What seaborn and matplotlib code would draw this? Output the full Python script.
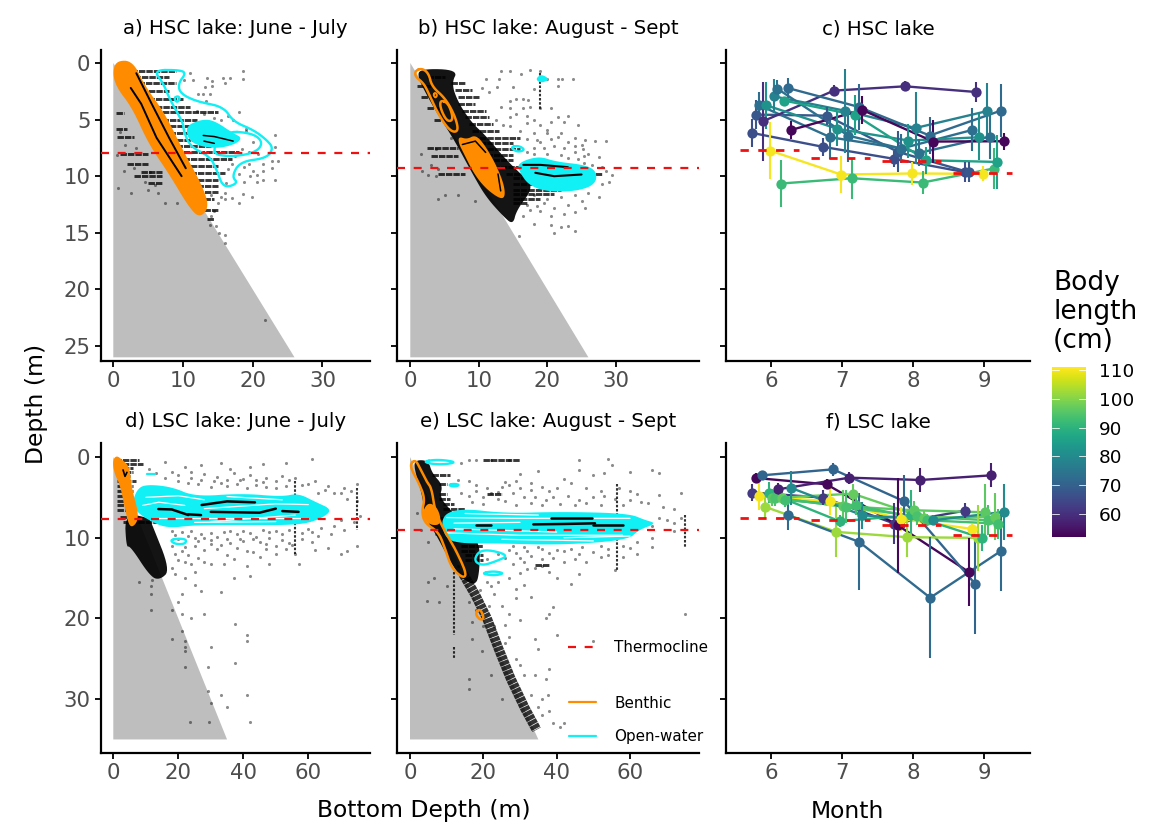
import numpy as np
import matplotlib
matplotlib.use("Agg")
import matplotlib.pyplot as plt
from matplotlib.lines import Line2D
from matplotlib.cm import ScalarMappable
from matplotlib.colors import Normalize
import seaborn as sns

sns.set_theme(style="ticks")
plt.rcParams['font.family'] = ['DejaVu Sans']

# ---------- monthly panels ----------
months = [6, 7, 8, 9]
c_offset = [-0.264, -0.214, -0.164, -0.114, -0.064, -0.014, 0.036, 0.086, 0.136, 0.186, 0.236, 0.286]
c_length = [66, 68, 73, 60, 82, 110, 78, 74, 92, 86, 72, 53]
c_depth = [[6.18, 7.41, 8.47, 9.65], [4.56, 4.65, 7.85, 9.65], [3.74, 6.56, 7.56, 5.91], [5.15, 2.44, 2.06, 2.56],
           [3.74, 5.82, 6.85, 6.56], [7.74, 9.85, 9.76, 9.79], [2.94, 4.21, 5.74, 4.26], [2.26, 6.41, 7.94, 6.5],
           [10.65, 10.18, 10.56, 9.32], [3.32, 4.59, 8.59, 8.74], [2.21, 3.88, 6.41, 4.21], [5.91, 4.15, 6.94, 6.91]]
c_err = [[1.2, .8, .7, .9], [1.3, .8, 1.8, .9], [1.2, 1.9, 1.3, 1.9], [3.5, .5, .45, .9],
         [2.05, 1.5, 1.5, 2.05], [2.5, 1.6, 1, .65], [1.5, 3.7, 3.2, 2.5], [.8, 2.3, 1.2, 2],
         [2.1, 1.8, 1, 1.8], [.35, 1.8, 1.2, 2.35], [.9, 2, 1.6, 2.35], [.8, 1.2, 1.9, .75]]
c_thermo = [7.65, 8.38, 8.7, 9.7]

f_offset = [-0.264, -0.218, -0.172, -0.126, -0.08, -0.034, 0.012, 0.058, 0.104, 0.15, 0.196, 0.242, 0.286]
f_length = [62, 53, 110, 71, 102, 90, 96, 94, 57, 97, 93, 72, 80]
f_depth = [[4.41, 5.03, 8.25, 6.64], [2.6, 3.38, 8.45, 14.23], [4.87, 5.48, 7.67, 8.91], [2.27, 1.53, 5.48, 15.71],
           [6.19, 9.28, 9.94, 10.02], [4.41, 7.96, 7.22, 10.02], [5.03, 6.1, 6.6, 6.85], [5.03, 6.19, 7.34, 7.84],
           [4, 2.56, 2.85, 2.27], [5.03, 4.54, 7.5, 7.42], [5.36, 5.98, 7.84, 8.25], [7.22, 10.52, 17.44, 11.63],
           [3.84, 7.22, 7.84, 6.8]]
f_err = [[1.1, .9, 2.5, .9], [.6, .6, 5.9, 4.2], [1.7, 1.65, 1.45, .6], [.5, .8, 3.3, 6.2],
         [1.45, 3.1, 2.5, 4.1], [1.3, .75, 3.1, 1.65], [1.1, 2, 1.2, 3.5], [1, 2.05, 1.1, 1.85],
         [.75, .75, 1.5, 1.5], [.8, 1.2, .9, 2.9], [.8, 1.2, .75, 1.85], [1.8, 6, 7.5, 4.95],
         [2.15, 1.7, .6, 3.5]]
f_thermo = [7.59, 7.84, 8.41, 9.69]

# ---------- thermocline depth by panel ----------
thermo_a, thermo_b, thermo_d, thermo_e = 7.95, 9.25, 7.68, 9.05

# ---------- dense rows of fixes: depth, from bottom depth, to bottom depth ----------
rows_a = [(.7, 2.5, 9), (1.2, 3, 8), (1.8, 3.5, 9), (2.5, 4, 8), (3.2, 5, 10), (3.9, 5, 11), (4.3, 6, 15), (5, 7, 12),
          (5.6, 7, 13), (6.2, 8, 12), (6.8, 8, 16), (7.3, 9, 14), (7.9, 9, 18), (8.5, 10, 17), (9.1, 10, 15),
          (9.7, 11, 16), (10.3, 11, 15), (10.9, 12, 15), (11.4, 12, 15), (12, 13, 14.5), (13, 13, 15), (13.8, 13.4, 14.5),
          (6.5, .5, 3), (8, 1, 5), (10, 3, 7), (5.8, .4, 2), (4.4, .4, 1.5), (8.9, 2, 5), (9.6, 4, 7), (10.6, 5, 7)]
rows_b = [(1.2, 2.5, 5), (1.8, 6, 8), (2.4, 6.5, 9), (3, 7, 10), (3.6, 7, 9.5), (4.2, 7.5, 11), (4.8, 8, 11.5),
          (5.4, 8.5, 12), (6, 9, 13), (6.6, 9, 16), (7.1, 9, 15), (7.6, 9, 16), (8.1, 11, 15), (8.6, 12, 15), (9.2, 12, 17),
          (9.8, 14, 28), (10.2, 15, 27), (10.7, 15, 22), (11.2, 15, 22), (11.6, 15, 21), (12, 15, 19), (12.4, 15, 17),
          (7.5, 2.5, 7), (8.2, 3, 7), (9.8, 4, 8), (2, 1, 3), (3, 1.5, 3.5), (4, 2.5, 4.5), (5, 3.5, 5)]
rows_d = [(.4, .5, 8), (.9, .5, 9), (1.4, .5, 6), (1.9, 1, 6), (2.4, 1, 5), (3, 1, 7), (3.6, 1, 6), (4.2, 1, 6), (4.8, 1, 5),
          (5.4, 1, 5.5), (6, 1, 6), (6.6, 1, 5), (7.4, 2, 5), (8.1, 3, 14)]
rows_e = [(.4, 20, 30), (4.6, 21, 25), (2.2, 6, 11), (3.4, 8, 10), (4.6, 8, 10), (5.2, 8, 11), (5.8, 9, 12), (6.4, 9, 15), (13.4, 34, 38),
          (7.6, 8, 14), (9.8, 10, 16), (10.4, 12, 18), (11, 14, 20), (11.6, 14, 18), (12.2, 15, 20), (12.8, 15, 20)]
ridge_x = [14.5, 17.7, 21, 24.1, 27.5, 31.4, 34.5]
ridge_y = [14.5, 17, 20, 23.7, 27.5, 31.2, 33.8]
# solid clouds of overlapping fixes: bottom depth, depth
cloud_b = [(1.5, .5), (7, .6), (6, 1.8), (7, 3.5), (9, 5.3), (11, 6.4), (13.9, 8.5), (16.5, 10), (18, 11), (15.5, 13), (15, 14.3),
           (13.5, 13.5), (11, 11.8), (9, 9.7), (6.5, 6.9), (4.5, 5), (3, 3.5), (1, 1.2)]
cloud_d = [(3.5, 7), (11, 7.5), (12, 8.43), (17.5, 14), (14.5, 15.2), (11.5, 14.9), (5.2, 11), (4, 11.2)]
cloud_e = [(1, .4), (5, .4), (6, 2), (9, 3.5), (8, 5), (12, 7), (15, 9), (19, 10.5), (19, 14), (18, 16), (14, 15), (11, 13), (7, 9.5),
           (4, 7.5), (3.5, 5), (1.5, 2)]
# vertical strings of fixes: bottom depth, from depth, to depth
cols_b = [(19, .9, 4.1)]
cols_d = [(56, 3, 12), (75, 3.8, 9)]
cols_e = [(12.1, 14.2, 22), (12.1, 23.5, 25), (56.4, 3.4, 14), (75, 7.2, 11.1)]

# ---------- stray fixes: bottom depth, depth ----------
pts_a = [(13.4, 1.35), (14.1, 1.6), (15.8, 1.35), (16.7, 1.35), (18.6, .7), (18.6, 1.4), (16, 1.8), (13.2, 2.1), (14.1, 2),
         (12.2, 2.7), (12.9, 2.7), (13.9, 2.7), (13.3, 3.4), (18, 4.3), (17.2, 5), (19.1, 5.8), (23.2, 6.4), (23.2, 7.4),
         (23.7, 8.7), (22.7, 8.7), (22.7, 9.3), (21.5, 8.9), (21.5, 9.5), (20.6, 9.9), (19.6, 10), (18.7, 10.5), (20.6, 10.5),
         (23.2, 10.3), (21.5, 10.3), (18.6, 11.6), (19.9, 11.8), (18, 12.4), (16, 11.5), (13.9, 14.3), (14.8, 14.4),
         (16, 15.2), (7.4, 12.4), (9.1, 12.4), (.7, 11), (4.5, 10.5), (5.3, 9.6), (6, 10.8), (21.7, 22.7), (16, 15.9),
         (15.2, 15), (14, 13.5), (14.5, 13.1), (15, 12.4), (16.2, 10.6), (17, 8.9), (18.8, 9.2), (19.5, 8.9), (20, 9.5),
         (16, 12), (15.5, 11.8), (11.5, 1.5), (11, .9), (10.2, 1.5), (12, 4.2), (13, 4.5), (14.5, 4.9), (15.5, 5), (16.5, 4.7),
         (1.5, 9.5), (2.5, 11.5), (5, 11.2), (6.4, 11.5), (3.2, 7.5), (3, 9.3), (1.7, 7.2), (.9, 6.1), (.6, 8.1),
         (19, 6), (20, 7), (19.5, 7.9), (18.5, 7.6), (17.5, 8.2), (20.8, 8), (16.5, 9.4), (18, 9.8), (14, 11.7), (17, 11.9)]
pts_b = [(13.3, .7), (14.5, .7), (16.2, 1), (17.5, .6), (11, 1.4), (13, 1.4), (12.6, 2.1), (15, 2.1), (10.5, 2.2), (11.5, 2.6),
         (16.5, 3.2), (17.2, 3.3), (14.5, 3.4), (15.5, 3.2), (13.3, 3.9), (14.5, 4), (16.5, 4), (17.5, 3.9), (19, 4), (20.6, 4),
         (21.5, 4.8), (23, 4.7), (22.5, 5.2), (24.5, 5.5), (20.5, 5.2), (17, 5.3), (13.5, 5.5), (14.5, 5.6), (16, 6), (18, 6.2),
         (20, 6.2), (22, 6.2), (24, 6.6), (25.5, 6.8), (27, 6.9), (28.5, 6.9), (25, 7.2), (23, 7), (21, 7.3), (19.5, 7.5),
         (18, 7.5), (20, 8), (22, 8.1), (24, 7.9), (25.2, 7.6), (25.4, 8.2), (25.4, 8.8), (26.5, 9), (28.5, 9.5), (29.5, 9.9),
         (29, 10.5), (28, 10.7), (26, 11.5), (24, 11.7), (22, 11.8), (20, 12), (18.5, 12.6), (17.5, 13), (19, 13.1), (21, 12.8),
         (23, 12.5), (25, 12.2), (24, 13.2), (22.5, 13.3), (20.5, 13.5), (18, 14.2), (20.5, 14.3), (22, 14.5), (24, 14.8),
         (21, 15), (23, 14.4), (6, 6.6), (3.7, 7.6), (1.5, 8), (1.7, 9.5), (2.6, 9.9), (3.8, 10), (4, 12), (5, 11.7), (7, 11.7),
         (9.5, 12.2), (4, 9.4), (3, 9), (20, 1.4), (21.5, 1.4), (22.2, 1.4), (23.8, 1.4), (19, .7), (18, 2.3), (21.5, 2), (15.8, 15.3),
         (17, 6.7), (18.5, 6.8), (19, 7), (20.5, 6.7), (21.5, 6.5), (22.5, 7.5), (24, 7.3), (17, 7.9), (18, 8), (17, 4.7), (18, 5),
         (19, 5.5), (20, 5.9), (14.5, 4.8), (15.5, 4.5), (12.5, 5), (16, 12), (18, 11.7), (17, 12.5), (19.5, 12.4), (16.5, 13.5),
         (26, 8), (24.5, 8.5), (23, 8.4), (27.5, 8.3), (28, 9.2), (27.5, 11.8), (25.5, 12.8)]
pts_d = [(16, .6), (22, 1.2), (27, 1), (33, .8), (36, 1.5), (42, 1.3), (46, .9), (53, .8), (61, .2), (18, 1.8), (24, 1.9),
         (28, 2.1), (32, 2.5), (37, 2), (40, 2.7), (44, 2.8), (47, 2.6), (50, 3), (54, 2.9), (58, 3.5), (60, 3.3), (66, 3.6),
         (71, 3.9), (75, 3.4), (63, 4.4), (68, 4.5), (72, 5.2), (75, 5.5), (70, 7.8), (74, 8), (76, 7.3), (68, 8.5), (64, 8.8),
         (61, 9.3), (58, 9.4), (54, 9), (50, 9.2), (46, 9.1), (42, 9.4), (38, 9.5), (34, 9.3), (30, 9.4), (27, 9.6), (24, 9.2),
         (21, 9.3), (19, 9.7), (48, 10), (52, 10.3), (45, 10.5), (40, 10.4), (36, 10.7), (33, 10.9), (30, 10.3), (26, 10.4),
         (25, 11), (22, 11.2), (21, 11.6), (28, 11.5), (32, 11.4), (38, 11.3), (41, 11.6), (43, 11.8), (47, 11.4), (50, 12),
         (53, 11.4), (56, 12), (62, 11.5), (66, 11.3), (75, 11), (72, 11.7), (70, 12), (57, 13.2), (48, 13.2), (41, 13.5),
         (34, 13.2), (30, 13.3), (28, 13), (24, 13.2), (22, 13), (20, 12.8), (18, 13.8), (25, 14.2), (22, 15), (19, 14.5),
         (37, 15), (42, 14.7), (25, 15.9), (27, 16.6), (33, 16.7), (21, 17), (20, 18), (18, 19), (21, 19.4), (24, 20), (21, 21.5),
         (28, 19.5), (37.5, 20.7), (41, 22), (41, 22.8), (22, 22.8), (22, 23.6), (22, 24), (30, 23.5), (37.5, 25.5), (22.2, 26),
         (29, 26), (29, 29), (33, 29.5), (41, 29.5), (30, 30.5), (35, 31), (42, 32.8), (23.5, 32.8), (29.5, 32.8), (11.6, 19),
         (11.6, 17), (11.6, 16), (12, 15.3), (8, 15.5), (18, 22.5), (11, 1.5), (13, 2),
         (16, 2.6), (20, 3), (23, 3.2), (26, 3.4), (30, 3.7), (33, 3.2), (35, 3.6), (38, 3.4), (41, 3.8), (44, 3.5), (47, 3.7), (50, 3.9),
         (53, 3.6), (20, 2.2), (24, 2.6), (27, 2.9), (31, 3), (35, 2.9), (39, 2.9), (42, 2.2), (46, 3.1), (52, 2.4), (56, 2.6), (62, 3),
         (65, 4.1), (70, 4.4), (73, 4.2), (18, 9.2), (23, 9.8), (28, 10), (32, 9.9), (36, 9.2), (40, 9.2), (44, 9.9), (48, 9.3), (52, 9.6),
         (60, 8.9), (63, 9.8), (67, 9.5), (71, 9), (20, 10.1), (25, 10), (30, 10.8), (35, 10.1), (39, 10.2), (43, 10.2), (47, 10.8),
         (54, 10.6), (58, 10.2), (61, 10.5), (18, 11), (19, 12), (23, 12.2), (26, 12.5), (35, 12.2), (37, 12.6), (45, 12.4), (50, 11), (55, 10.9)]
pts_e = [(14, .8), (16, .4), (18, .4), (22, .4), (27, .4), (46, .4), (54, .2), (55, 1), (46, 1.6), (42, 2.7), (50, 2.2), (53, 2),
         (66, 1.6), (68, 2), (60, 1.8), (30, 2.1), (35, 1.7), (13, 2.9), (16, 3), (18, 3.5), (21, 3.8), (25, 3.7), (27, 3.5), (30, 3.8),
         (33, 4.1), (36, 3.7), (38, 4.2), (28, 4.5), (31, 5), (34, 4.9), (37, 5.3), (39, 5), (43, 4.8), (46, 5.3), (50, 5), (53, 4.8),
         (56, 5.2), (60, 5.3), (62, 4.6), (68, 4.7), (74, 4.4), (65, 5.7), (41, 5.8), (45, 6), (48, 5.7), (52, 6), (58, 5.9), (68, 7.5),
         (70, 7.8), (72, 8.2), (66, 8.6), (72, 9.2), (74, 7.5), (66, 10), (62, 10.5), (66, 11.1), (60, 11.3), (58, 11), (54, 11.4),
         (52, 11), (47, 11.1), (44, 11.4), (40, 11.5), (36, 11.4), (32, 11.6), (29, 11.9), (27, 11.5), (24, 12), (21, 12.7), (30, 12.5),
         (33, 12.3), (36, 12.6), (39, 12.5), (42, 13), (45, 12.7), (48, 13), (52, 12.4), (36, 13.5), (32, 13.9), (30, 14.4), (27, 15),
         (24, 15.5), (22, 16), (38, 14.2), (46, 14.5), (56, 14), (40, 15), (44, 15.7), (31, 15.8), (29, 16.4), (29, 17.5), (33, 17.4),
         (39, 18.6), (38, 19.5), (37, 20), (30, 20.2), (26, 20.8), (27, 22.3), (34, 22.6), (40, 22), (35, 23.8), (50, 22.8), (75, 19.5),
         (30, 25.8), (34, 27), (37, 27.5), (38, 26.3), (37.5, 29.5), (36, 30), (38, 31.5), (39, 33), (41, 33.5), (42, 33), (17, 22.5),
         (10, 16), (8, 18), (4.5, 17.8), (5, 15.5), (6.5, 15), (16, 27.5), (16, 28.8), (13, 13.5), (7, 9.5), (5, 10.5), (3, 9), (2, 7),
         (14, 4.5), (16, 4.8), (18, 4.2), (20, 4.9), (22, 4.5), (24, 5.2), (26, 5.5), (29, 5.9), (33, 5.7), (36, 6), (20, 5.8), (17, 5.6),
         (24, 4.3), (26, 3.1), (29, 3), (33, 3.2), (40, 3.8), (44, 3.2), (48, 3.9), (52, 4.2), (57, 3.9), (60, 4.2), (63, 5.6), (69, 6.2),
         (72, 6.5), (28, 11), (31, 11.2), (35, 11.1), (38, 11.9), (42, 11.7), (46, 12), (50, 11.8), (54, 12.2), (58, 12.4), (62, 12),
         (26, 12.5), (28, 13.2), (31, 13), (34, 13.8), (19, 16.5), (21, 15.5), (23, 17), (25, 18.5), (27, 19.5), (26, 23), (29, 25), (31, 27),
         (33, 29.5), (35, 31), (36, 32), (23, 21), (21.5, 18.5), (20, 21), (18, 19), (16, 18), (17, 20.5), (19.5, 24), (22, 27), (25, 30)]

# ---------- density contours: bottom depth, depth ----------
ben_a = [(.4, -.2), (2.8, -.2), (4.6, 2.09), (7.4, 4.44), (10.2, 7.97), (12.6, 10.62), (13.8, 12.68), (12.44, 13.7),
         (10.9, 12.8), (8, 9.8), (5.1, 7.2), (2.7, 3.95), (.5, 2.2), (-.1, .91)]
ben_a_gap = [[(3.3, .9), (5.5, 3.6), (8, 6.6), (10.4, 9.3)], [(2.5, 2.2), (4, 3.6), (6.2, 6.6), (9.8, 10)]]
pel_a = [(5.74, .62), (9.57, .62), (10.43, .91), (9.33, 1.79), (9.57, 2.68), (11.96, 3.41), (15.79, 3.85), (17.22, 5.18), (20.1, 5.91),
         (22, 6.79), (22.97, 7.53), (22, 8.41), (18.18, 8.71), (16.99, 10.03), (17.94, 10.62), (15.79, 11.06), (14.83, 9.44), (13.88, 8.26),
         (11, 7.38), (10.05, 5.91), (10.05, 5.32), (8.13, 3.26), (7.18, 1.79)]
pel_a_in = [(10.29, 5.62), (12.5, 5), (14.35, 5.03), (17.22, 6.21), (18.5, 6.6), (17.5, 7.2), (14.5, 7.6), (11, 7.09)]
pel_a_mid = [(16, 6), (20, 6.2), (21.5, 7), (20.5, 7.9), (17, 8.3), (13.9, 8)]
pel_a_ring = [(8.7, 3.1), (9.3, 2.9), (9.6, 3.2), (9.1, 3.5)]
pel_a_gap = [[(12.9, 6.4), (14.5, 6.5), (17.2, 6.9)], [(13, 6.9), (14.5, 7.1)]]

ben_b1 = [(.73, .68), (1.7, .47), (2.68, .91), (3.16, 2.09), (5.11, 3.12), (6.57, 4.74), (7.06, 6.06), (5.84, 6.06), (4.14, 4.59),
          (2.68, 2.68), (1.95, 1.79), (.73, 1.21)]
ben_b1_in = [(4.38, 3.26), (5.6, 3.56), (6.33, 5.03), (5.35, 5.18), (4.38, 4)]
ben_b1_dot = [(3.35, 2.8), (3.65, 2.6), (3.95, 2.85), (3.65, 3.1)]
ben_b2 = [(7.06, 6.5), (8.27, 6.74), (9.49, 6.35), (10.7, 7.09), (12.41, 8.85), (13.63, 10.62), (13.87, 11.79), (13.14, 12.03),
          (10.95, 11.06), (9.25, 9.74), (7.79, 7.97), (7.06, 7.09)]
ben_b2_gap = [[(7.6, 7.2), (9.5, 6.9), (11, 7.9)], [(12.8, 9.8), (13.2, 11.3)]]
pel_b = [(15.57, 8.85), (18.73, 8.21), (21.17, 8.71), (25.55, 9), (27.25, 9.59), (27, 10.76), (24.09, 11.35), (19.71, 11.35),
         (17.27, 10.76), (16.06, 9.74)]
pel_b_gap = [[(18.25, 9.7), (21, 10), (25, 9.85)], [(16.5, 9), (19, 9), (23, 9.2)]]
pel_b_s1 = [(14.6, 7.44), (15.8, 7.29), (16.8, 7.68), (15.6, 7.88)]
pel_b_s2 = [(18.25, 1.44), (19.1, .97), (20.4, 1.44), (19.1, 1.79)]

ben_d = [(-.2, .4), (1.03, -.2), (2.9, .4), (5, 1.2), (5.6, 3.8), (8.2, 7.6), (5.3, 9), (3.8, 6.9), (2.2, 3.6), (.2, 1.9)]
ben_d_gap = [[(3, 1.6), (3.6, 2.4), (4.2, 1.9)]]
pel_d = [(7.18, 4.09), (9.74, 3.39), (17.95, 3.68), (25.13, 4.92), (39.49, 4.5), (51.8, 4.92), (56.92, 4.5), (62.05, 5.54), (67.69, 6.57),
         (63.08, 7.81), (56.92, 8.43), (40.51, 8.43), (25.13, 8.43), (16.41, 8.84), (10.77, 7.81), (7.18, 6.78), (5.85, 5.74)]
pel_d_gap = [[(13.85, 6.45), (18, 6.5), (23.08, 7.19)], [(27.18, 5.95), (35, 5.5), (43.59, 5.62)], [(30, 6.8), (45, 6.9), (50, 6.4)],
             [(52, 6.7), (57, 6.8)], [(23, 7.1), (27, 7.2)]]
pel_d_pale = [[(10, 5), (20, 4.8), (28, 5.3)], [(12, 7.6), (30, 7.6), (60, 7.6)], [(28, 6.4), (50, 5.8), (60, 5.9)], [(30, 8), (56, 7.2)],
              [(9, 6), (14, 5.6), (22, 6)], [(35, 4.9), (52, 5.3)], [(25, 8.1), (50, 8)]]
pel_d_s1 = [(17.44, 10.29), (20, 10.1), (22.56, 10.21), (22.05, 10.79), (18.97, 10.79)]
pel_d_s2 = [(10.26, 2.15), (12.82, 2.15)]

ben_e = [(.18, .79), (1.55, .37), (2.73, 1.4), (4.55, 3.06), (5.91, 3.88), (6.82, 6.78), (9.55, 9.26), (12.27, 11.32), (15.45, 14.42),
         (14.55, 15.04), (11.36, 13.8), (9.55, 11.32), (7.73, 9.26), (4.09, 8.22), (3.18, 6.78), (4.09, 5.12), (2.27, 3.06), (.45, 1.62)]
ben_e_in = [(3.18, 6.98), (5, 5.54), (7.73, 6.36), (8.64, 8.43), (5, 8.43)]
ben_e_s = [(17.73, 19.38), (19.09, 18.76), (20.27, 20), (19.09, 20.21)]
pel_e = [(8.64, 7.19), (14.09, 6.36), (25.91, 6.98), (41.36, 6.78), (59.55, 6.98), (64.09, 7.81), (67.27, 8.22), (62.27, 9.05),
         (59.55, 10.29), (41.36, 10.91), (23.18, 10.7), (12.27, 10.7), (9.09, 9.67)]
pel_e_gap = [[(33.64, 8.35), (42, 8.3), (50.45, 8.22)], [(38.5, 7.5), (49.5, 7.5)], [(18, 8.4), (22, 8.4)], [(50, 8.4), (58, 8.4)]]
pel_e_pale = [[(10, 7.5), (28, 7.6), (60, 7.6)], [(10, 9.4), (30, 9.7), (58, 9.7)], [(12, 8.9), (40, 9.3)], [(42, 10), (60, 9.8)],
              [(15, 7), (35, 7.2)], [(25, 10.2), (50, 10.4)], [(12, 8.2), (30, 8.1)]]
pel_e_s = [[(3.18, .58), (7.73, .29), (13.18, .66), (7.73, .99)], [(10.45, 3.47), (12, 3.3), (13.64, 3.47), (12, 3.7)],
           [(17.27, 12.77), (19.55, 11.32), (27.27, 12.15), (23.18, 12.98), (19.55, 13.47)], [(19.36, 14.42), (22.73, 14.13), (25.91, 14.42), (22.73, 14.71)]]

titles = ["a) HSC lake: June - July", "b) HSC lake: August - Sept", "c) HSC lake",
          "d) LSC lake: June - July", "e) LSC lake: August - Sept", "f) LSC lake"]
cb_ticks = [60, 70, 80, 90, 100, 110]

# ---------- layout ----------
W, H = 1174, 834
fig = plt.figure(figsize=(W / 100, H / 100), dpi=100, facecolor='white')
GREY, ORANGE, CYAN, RED = '#BEBEBE', '#FF8C00', '#10F0F5', '#F01010'
TICK = '#4D4D4D'
cmap = sns.color_palette('viridis', as_cmap=True)
norm = Normalize(51.9, 110.9)


def panel(l, t, r, b, x0, xk, y0, yk, title, xt, yt):
    ax = fig.add_axes([l / W, 1 - b / H, (r - l) / W, (b - t) / H])
    ax.set_facecolor('white')
    sns.despine(ax=ax)
    for s in ('left', 'bottom'):
        ax.spines[s].set_linewidth(1.6)
        ax.spines[s].set_color('black')
    ax.tick_params(length=4.5, width=1.3, color='black', labelsize=15.3, labelcolor=TICK, pad=3)
    ax._lim = ((l - x0) / xk, (r - x0) / xk, (b - y0) / yk, (t - y0) / yk)
    ax.set_xticks(xt)
    ax.set_yticks(yt)
    ax.set_title(title, fontsize=14.2, color='black', pad=11.2)
    return ax


def smooth(p, n=3):
    a = np.array(p + [p[0]], float)
    for _ in range(n):
        q, r = .75 * a[:-1] + .25 * a[1:], .25 * a[:-1] + .75 * a[1:]
        a = np.empty((2 * len(q) + 1, 2))
        a[0:-1:2], a[1:-1:2], a[-1] = q, r, q[0]
    return a


def line(ax, p, color, lw, alpha=1.0, z=3):
    xs, ys = zip(*p)
    sns.lineplot(x=list(xs), y=list(ys), sort=False, estimator=None, ax=ax, color=color, lw=lw, alpha=alpha, zorder=z, legend=False)


def fill(ax, p, color, z=3, alpha=1.0):
    a = smooth(p)
    ax.fill(a[:, 0], a[:, 1], color=color, lw=0, zorder=z, alpha=alpha)


def ring(ax, p, color, lw=1.7, z=4):
    a = smooth(p)
    sns.lineplot(x=a[:, 0], y=a[:, 1], sort=False, estimator=None, ax=ax, color=color, lw=lw, zorder=z, legend=False)


def base(ax, bottom, rows, pts, cols=(), cloud=None):
    ax.fill([0, bottom, 0], [0, bottom, bottom], color=GREY, lw=0, zorder=1)
    if cloud is not None:
        fill(ax, cloud, 'black', 2, .92)
    for y, a, b in rows:
        ax.hlines(y, a, b, color='black', lw=2.1, alpha=.78, linestyles=(0, (2.2, .35)), zorder=2)
    for x, a, b in cols:
        ax.vlines(x, a, b, color='black', lw=1.5, alpha=.8, linestyles=(0, (1.2, .8)), zorder=2)
    xs, ys = zip(*pts)
    sns.scatterplot(x=list(xs), y=list(ys), ax=ax, color='black', s=5, alpha=.45, linewidth=0, zorder=2, legend=False)


def thermo(ax, y):
    a, b, _, _ = ax._lim
    ax.plot([a, b], [y, y], color=RED, lw=1.6, ls=(0, (3.6, 3.9)), zorder=6)


def finish(ax):
    a, b, c, d = ax._lim
    ax.set_xlim(a, b)
    ax.set_ylim(c, d)


def fish(ax, offs, lens, depths, errs, therm):
    for i in range(len(offs)):
        col = cmap(norm(lens[i]))
        xs = [m + offs[i] for m in months]
        sns.lineplot(x=xs, y=depths[i], sort=False, estimator=None, ax=ax, color=col, lw=1.7, zorder=3, legend=False)
        ax.errorbar(xs, depths[i], yerr=errs[i], fmt='o', color=col, ms=7.4, elinewidth=1.5, mew=0, zorder=4)
    for m, y in zip(months, therm):
        ax.plot([m - .44, m + .39], [y, y], color=RED, lw=2, ls=(0, (3, 3.4)), zorder=6)


x_a, y_hsc = [0, 10, 20, 30], [0, 5, 10, 15, 20, 25]
x_d, y_lsc = [0, 20, 40, 60], [0, 10, 20, 30]
MONTH0 = 771 - 6 * 71

# a
ax = panel(101, 50, 369.5, 361, 113.3, 6.97, 63, 11.32, titles[0], x_a, y_hsc)
base(ax, 26, rows_a, pts_a)
ring(ax, pel_a, CYAN)
fill(ax, pel_a_in, CYAN, 4)
ring(ax, pel_a_mid, CYAN)
ring(ax, pel_a_ring, CYAN)
for g in pel_a_gap:
    line(ax, g, 'black', 1.1, z=5)
fill(ax, ben_a, ORANGE, 5)
for g in ben_a_gap:
    line(ax, g, 'black', 1.4, z=5)
thermo(ax, thermo_a)
finish(ax)

# b
ax = panel(397, 50, 699, 361, 410.3, 6.85, 63, 11.32, titles[1], x_a, y_hsc)
ax.set_yticklabels([])
base(ax, 26, rows_b, pts_b, cols_b, cloud_b)
fill(ax, pel_b, CYAN, 4)
for g in pel_b_gap:
    line(ax, g, 'black', 1.5, z=5)
ring(ax, pel_b_s1, CYAN)
fill(ax, pel_b_s2, CYAN, 4)
ring(ax, ben_b1, ORANGE, 1.8, 5)
ring(ax, ben_b1_in, ORANGE, 1.8, 5)
ring(ax, ben_b1_dot, ORANGE, 1.4, 5)
fill(ax, ben_b2, ORANGE, 5)
for g in ben_b2_gap:
    line(ax, g, 'black', 1.1, z=5)
thermo(ax, thermo_b)
finish(ax)

# c
ax = panel(726, 50, 1030, 361, MONTH0, 71, 63, 11.32, titles[2], months, y_hsc)
ax.set_yticklabels([])
fish(ax, c_offset, c_length, c_depth, c_err, c_thermo)
finish(ax)

# d
ax = panel(101, 443, 369.5, 753, 113.3, 3.25, 457, 8.07, titles[3], x_d, y_lsc)
base(ax, 35, rows_d, pts_d, cols_d, cloud_d)
fill(ax, pel_d, CYAN, 4)
for g in pel_d_pale:
    line(ax, g, 'white', .9, z=4)
for g in pel_d_gap:
    line(ax, g, 'black', 1.8, z=5)
ring(ax, pel_d_s1, CYAN)
line(ax, pel_d_s2, CYAN, 1.6, z=4)
fill(ax, ben_d, ORANGE, 5)
for g in ben_d_gap:
    line(ax, g, 'black', 1.2, z=5)
thermo(ax, thermo_d)
finish(ax)

# e
ax = panel(397, 443, 699, 753, 410, 3.667, 457, 8.07, titles[4], x_d, y_lsc)
ax.set_yticklabels([])
base(ax, 35, rows_e, pts_e, cols_e, cloud_e)
sns.lineplot(x=ridge_x, y=ridge_y, sort=False, estimator=None, ax=ax, color='black', lw=7, alpha=.8, zorder=2, legend=False,
             ls=(0, (.45, .07)))
fill(ax, pel_e, CYAN, 4)
for g in pel_e_pale:
    line(ax, g, 'white', .9, z=4)
for g in pel_e_gap:
    line(ax, g, 'black', 1.8, z=5)
for s in pel_e_s:
    ring(ax, s, CYAN)
ring(ax, ben_e, ORANGE, 1.8, 5)
fill(ax, ben_e_in, ORANGE, 5)
ring(ax, ben_e_s, ORANGE, 1.8, 5)
thermo(ax, thermo_e)
finish(ax)

# f
ax = panel(726, 443, 1030, 753, MONTH0, 71, 457, 8.07, titles[5], months, y_lsc)
ax.set_yticklabels([])
fish(ax, f_offset, f_length, f_depth, f_err, f_thermo)
finish(ax)

# axis labels
fig.text(424 / W, 1 - 811 / H, 'Bottom Depth (m)', ha='center', va='center', fontsize=16.9, color='black')
fig.text(847.5 / W, 1 - 811 / H, 'Month', ha='center', va='center', fontsize=16.9, color='black')
fig.text(37 / W, 1 - 404 / H, 'Depth (m)', ha='center', va='center', rotation=90, fontsize=16.9, color='black')

# key in panel e
fig.add_artist(Line2D([568 / W, 595 / W], [1 - 647 / H] * 2, color=RED, lw=1.6, ls=(0, (3.6, 3.9))))
fig.add_artist(Line2D([569 / W, 596 / W], [1 - 702 / H] * 2, color=ORANGE, lw=1.6))
fig.add_artist(Line2D([569 / W, 596 / W], [1 - 736 / H] * 2, color=CYAN, lw=1.6))
for y, s in ((647, 'Thermocline'), (703, 'Benthic'), (736, 'Open-water')):
    fig.text(614 / W, 1 - y / H, s, ha='left', va='center', fontsize=10.9, color='black')

# colour bar
fig.text(1053 / W, 1 - 312 / H, 'Body\nlength\n(cm)', ha='left', va='center', fontsize=19, color='black', linespacing=1.15)
cax = fig.add_axes([1051.7 / W, 1 - 537.3 / H, 34 / W, 170 / H])
cb = fig.colorbar(ScalarMappable(norm=norm, cmap=cmap), cax=cax)
cb.outline.set_visible(False)
cb.set_ticks(cb_ticks)
cax.tick_params(length=0, labelsize=13.3, labelcolor='black', pad=9.5)
for t in cb_ticks:
    cax.plot([0, .2], [t, t], color='white', lw=.7, alpha=.8, transform=cax.get_yaxis_transform())
    cax.plot([.8, 1], [t, t], color='white', lw=.7, alpha=.8, transform=cax.get_yaxis_transform())

fig.savefig('out.png', dpi=100, facecolor='white')
